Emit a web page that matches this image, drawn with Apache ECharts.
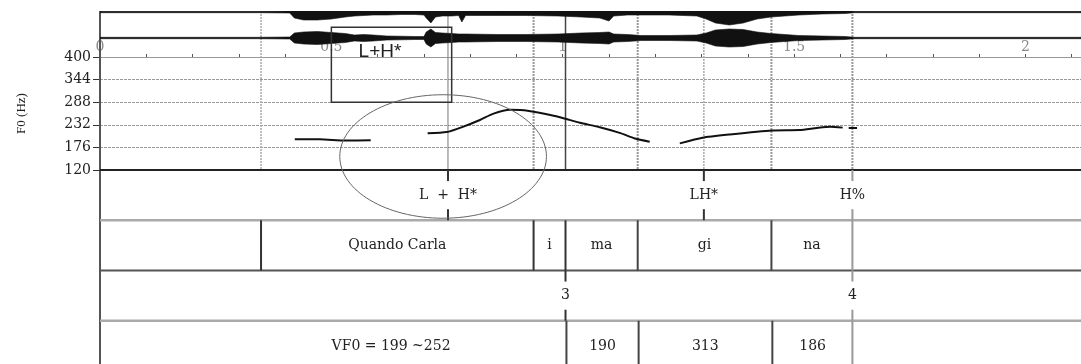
<!DOCTYPE html>
<html>
<head>
<meta charset="utf-8">
<script src="https://cdn.jsdelivr.net/npm/echarts@6/dist/echarts.min.js"></script>
<style>
  html, body { margin: 0; padding: 0; background: #fff; }
  #chart { width: 1081px; height: 364px; }
</style>
</head>
<body>
<div id="chart"></div>
<script>
// ---- time axis (s), shared by waveform, F0 track and annotation tiers ----
const timeMax = 2.12;
const timeTickLabels = ['0', '0.5', '1', '1.5', '2'];

// ---- F0 axis (Hz) ----
const f0Min = 120;
const f0Max = 400;
const f0Step = 56;

// ---- waveform amplitude envelope (relative units), two channels ----
const waveTimes = [0, 0.34, 0.41, 0.42, 0.44, 0.47, 0.50, 0.53, 0.55, 0.57, 0.59, 0.62, 0.65, 0.68, 0.70,
  0.705, 0.715, 0.725, 0.74, 0.76, 0.775, 0.782, 0.79, 0.86, 0.92, 0.99, 1.04, 1.08, 1.10, 1.11,
  1.14, 1.17, 1.23, 1.29, 1.31, 1.33, 1.36, 1.39, 1.42, 1.45, 1.48, 1.51, 1.56, 1.61, 1.63, 2.12];
const waveEnvUpperChannel = [0.7, 0.7, 1.0, 6, 8, 8, 7, 5, 4, 3.5, 3, 3, 2.5, 2.5, 3,
  6, 11, 5, 4, 4, 3.5, 10, 3.5, 3.5, 3.5, 4, 5, 6, 9, 4,
  3, 3, 3, 4, 7, 11, 13, 11, 7, 5, 4, 3, 2, 1.5, 0.7, 0.7];
const waveEnvLowerChannel = [0.7, 0.7, 1.0, 5, 6, 6.5, 5.5, 4.5, 3, 3.5, 3, 2, 1.8, 1.5, 1.5,
  6, 9, 5.5, 5, 4.5, 4, 4, 4, 3.5, 3.5, 4, 5, 5.5, 6, 4,
  3.5, 2.5, 2.5, 3, 5, 8, 9, 8.5, 6, 4.5, 3.5, 2.5, 2, 1.5, 0.7, 0.7];

// ---- F0 contour: time (s) and Hz; null marks an unvoiced gap ----
const f0Times = [0.421, 0.475, 0.529, 0.585, 0.64,
  0.708, 0.749, 0.784, 0.821, 0.849, 0.886, 0.924, 0.983, 1.006, 1.037, 1.080, 1.123, 1.156, 1.188, 1.22,
  1.253, 1.302, 1.361, 1.452, 1.512, 1.549, 1.578, 1.605, 1.611,
  1.618, 1.636];
const f0Values = [196, 196, 193, 194, null,
  211, 214, 227, 244, 259, 269, 267, 254, 247, 237, 226, 212, 198, 190, null,
  186, 200, 208, 218, 219, 224, 227, 225, null,
  224, 224];

// ---- annotation tiers ----
const toneTimes = [0.752, 1.305, 1.626];
const toneLabels = ['L  +  H*', 'LH*', 'H%'];
const syllableBounds = [0.348, 0.937, 1.006, 1.162, 1.451, 1.626];
const syllableLabels = ['Quando Carla', 'i', 'ma', 'gi', 'na'];
const breakTimes = [1.006, 1.626];
const breakLabels = ['3', '4'];
const vf0Bounds = [1.008, 1.164, 1.453, 1.626];
const vf0Labels = ['VF0 = 199 ~252', '190', '313', '186'];
const vf0LabelTimes = [0.629, 1.086, 1.308, 1.54];

// ---- highlighted accent: box (time from/to, Hz from/to) and ellipse (centre t, centre Hz, half-width s, half-height Hz) ----
const accentBox = [0.5, 0.76, 288, 474];
const accentBoxLabel = 'L+H*';
const accentBoxLabelAt = [0.605, 412];
const focusEllipse = [0.7415, 153.5, 0.2233, 153];

// ---- layout and styles ----
const LAYOUT = { left: 100, waveTop: 11, waveHeight: 39, pitchTop: 57, pitchHeight: 113, tierTop: 170, tierHeight: 201 };
const channelOffsets = [26, 0];
const tierRuleColors = ['#222', '#aaa', '#555', '#aaa'];
const tierRuleWidths = [2, 2.5, 2, 2.5];
const toneTickColors = ['#333', '#333', '#999'];
const breakTickColors = ['#333', '#999'];
const syllableBoundColors = ['#333', '#333', '#333', '#444', '#444', '#999'];
const vf0BoundColors = ['#444', '#444', '#444', '#999'];
const syllableGarnish = [
  { color: '#aaa', width: 1.5, dash: [2, 1] },
  { color: '#999', width: 2, dash: [2, 1] },
  { color: '#444', width: 1.5, dash: null },
  { color: '#999', width: 2, dash: [2, 1] },
  { color: '#999', width: 2, dash: [2, 1] },
  { color: '#999', width: 2, dash: [2, 1] }
];
const toneGarnish = [
  { color: '#777', width: 1, dash: null },
  { color: '#aaa', width: 1.5, dash: [2, 1] },
  null
];
const SERIF = 'DejaVu Serif';

// ---- build tier marks ----
const tierItems = [];
tierRuleColors.forEach((c, i) => tierItems.push({ kind: 'rule', row: i, t: 0, color: c, width: tierRuleWidths[i] }));
toneTimes.forEach((t, i) => tierItems.push({ kind: 'point', row: 0, t, text: toneLabels[i], color: toneTickColors[i] }));
syllableBounds.forEach((t, i) => tierItems.push({ kind: 'bound', row: 1, t, color: syllableBoundColors[i] }));
syllableLabels.forEach((s, i) => tierItems.push({ kind: 'text', row: 1, t: (syllableBounds[i] + syllableBounds[i + 1]) / 2, text: s }));
breakTimes.forEach((t, i) => tierItems.push({ kind: 'point', row: 2, t, text: breakLabels[i], color: breakTickColors[i] }));
vf0Bounds.forEach((t, i) => tierItems.push({ kind: 'bound', row: 3, t, color: vf0BoundColors[i] }));
vf0Labels.forEach((s, i) => tierItems.push({ kind: 'text', row: 3, t: vf0LabelTimes[i], text: s }));

// ---- vertical guide lines through waveform and F0 panel ----
const garnishItems = [{ t: 0, color: '#555', width: 2, dash: null }];
syllableBounds.forEach((t, i) => garnishItems.push(Object.assign({ t }, syllableGarnish[i])));
toneTimes.forEach((t, i) => { if (toneGarnish[i]) garnishItems.push(Object.assign({ t }, toneGarnish[i])); });

function textEl(text, x, y, size, family) {
  return { type: 'text', x, y, style: { text, fill: '#222', fontSize: size, fontFamily: family, align: 'center', verticalAlign: 'middle' } };
}
function lineEl(a, b, color, width, dash) {
  return { type: 'line', shape: { x1: a[0], y1: a[1], x2: b[0], y2: b[1] }, style: { stroke: color, lineWidth: width, lineDash: dash || null } };
}

function renderWave(params, api) {
  const ch = params.dataIndex;
  const env = ch === 0 ? waveEnvUpperChannel : waveEnvLowerChannel;
  const c = channelOffsets[ch];
  const pts = [];
  for (let i = 0; i < waveTimes.length; i++) pts.push(api.coord([waveTimes[i], c + env[i]]));
  for (let i = waveTimes.length - 1; i >= 0; i--) pts.push(api.coord([waveTimes[i], c - env[i]]));
  return { type: 'polygon', shape: { points: pts }, style: { fill: '#111', stroke: '#111', lineWidth: 0.6 } };
}

function renderGarnish(params, api) {
  const g = garnishItems[params.dataIndex];
  const bottom = api.coord([g.t, f0Min]);
  return lineEl([bottom[0], LAYOUT.waveTop], bottom, g.color, g.width, g.dash);
}

function renderTier(params, api) {
  const it = tierItems[params.dataIndex];
  if (it.kind === 'rule') {
    return lineEl(api.coord([0, it.row]), api.coord([timeMax, it.row]), it.color, it.width);
  }
  if (it.kind === 'bound') {
    return lineEl(api.coord([it.t, it.row]), api.coord([it.t, it.row + 1]), it.color, 2);
  }
  const mid = api.coord([it.t, it.row + 0.5]);
  if (it.kind === 'text') {
    return textEl(it.text, mid[0], mid[1], 14, SERIF);
  }
  // point tier: ticks at top and bottom of the row, label in the middle
  return {
    type: 'group',
    children: [
      lineEl(api.coord([it.t, it.row]), api.coord([it.t, it.row + 0.22]), it.color, 2),
      lineEl(api.coord([it.t, it.row + 0.78]), api.coord([it.t, it.row + 1]), it.color, 2),
      textEl(it.text, mid[0], mid[1], 14, SERIF)
    ]
  };
}

function renderAccent(params, api) {
  if (params.dataIndex === 0) {
    const a = api.coord([accentBox[0], accentBox[3]]);
    const b = api.coord([accentBox[1], accentBox[2]]);
    const lp = api.coord(accentBoxLabelAt);
    return {
      type: 'group',
      children: [
        { type: 'rect', shape: { x: a[0], y: a[1], width: b[0] - a[0], height: b[1] - a[1] }, style: { fill: null, stroke: '#333', lineWidth: 1.5 } },
        textEl(accentBoxLabel, lp[0], lp[1], 19, 'Liberation Sans')
      ]
    };
  }
  const c = api.coord([focusEllipse[0], focusEllipse[1]]);
  const e = api.coord([focusEllipse[0] + focusEllipse[2], focusEllipse[1] + focusEllipse[3]]);
  return { type: 'ellipse', shape: { cx: c[0], cy: c[1], rx: e[0] - c[0], ry: c[1] - e[1] }, style: { fill: null, stroke: '#666', lineWidth: 1 } };
}

const hiddenTime = (gridIndex) => ({ type: 'value', gridIndex, min: 0, max: timeMax, show: false });
const gridBox = (top, height) => ({ left: LAYOUT.left, right: 0, top, height, containLabel: false, outerBoundsMode: 'none' });

const option = {
  animation: false,
  backgroundColor: '#fff',
  grid: [
    gridBox(LAYOUT.waveTop, LAYOUT.waveHeight),
    gridBox(LAYOUT.pitchTop, LAYOUT.pitchHeight),
    gridBox(LAYOUT.tierTop, LAYOUT.tierHeight)
  ],
  xAxis: [
    hiddenTime(0),
    {
      type: 'value', gridIndex: 1, position: 'top', min: 0, max: timeMax, interval: 0.5,
      axisLine: { show: true, lineStyle: { color: '#999', width: 1 } },
      axisTick: { show: true, length: 3, lineStyle: { color: '#555' } },
      minorTick: { show: true, splitNumber: 5, length: 3, lineStyle: { color: '#555' } },
      axisLabel: {
        show: true, margin: 3, color: '#888', fontFamily: SERIF, fontSize: 14, showMaxLabel: false,
        formatter: (v) => { const k = Math.round(v / 0.5); return Math.abs(v - k * 0.5) < 1e-6 && timeTickLabels[k] ? timeTickLabels[k] : ''; }
      },
      splitLine: { show: false }
    },
    hiddenTime(2)
  ],
  yAxis: [
    { type: 'value', gridIndex: 0, min: -12, max: 27, show: false },
    {
      type: 'value', gridIndex: 1, min: f0Min, max: f0Max, interval: f0Step,
      name: 'F0 (Hz)', nameLocation: 'middle', nameRotate: 90, nameGap: 72,
      nameTextStyle: { color: '#222', fontFamily: 'Liberation Serif', fontSize: 13 },
      axisLine: { show: true, lineStyle: { color: '#555', width: 2 } },
      axisTick: { show: true, length: 7, lineStyle: { color: '#333' } },
      axisLabel: { color: '#222', fontFamily: SERIF, fontSize: 14, margin: 9 },
      splitLine: { show: true, lineStyle: { color: '#999', width: 1, type: [3, 1] } }
    },
    {
      type: 'value', gridIndex: 2, min: 0, max: 4, inverse: true,
      axisLine: { show: true, lineStyle: { color: '#555', width: 2 } },
      axisTick: { show: false }, axisLabel: { show: false }, splitLine: { show: false }
    }
  ],
  series: [
    {
      type: 'custom', name: 'waveform', xAxisIndex: 0, yAxisIndex: 0, clip: true, z: 3,
      renderItem: renderWave, data: channelOffsets.map((c, i) => [i, c])
    },
    {
      type: 'custom', name: 'guides', xAxisIndex: 1, yAxisIndex: 1, clip: false, z: 2,
      renderItem: renderGarnish, data: garnishItems.map((g) => [g.t, f0Min])
    },
    {
      type: 'line', name: 'F0', xAxisIndex: 1, yAxisIndex: 1, z: 5,
      showSymbol: false, connectNulls: false, smooth: 0.2,
      lineStyle: { color: '#111', width: 2 },
      data: f0Times.map((t, i) => [t, f0Values[i] === null ? '-' : f0Values[i]])
    },
    {
      type: 'custom', name: 'tiers', xAxisIndex: 2, yAxisIndex: 2, clip: false, z: 4,
      renderItem: renderTier, data: tierItems.map((it) => [it.t, it.row])
    },
    {
      type: 'custom', name: 'accent', xAxisIndex: 1, yAxisIndex: 1, clip: false, z: 6,
      renderItem: renderAccent, data: [[accentBox[0], accentBox[2]], [focusEllipse[0], focusEllipse[1]]]
    }
  ]
};

const chart = echarts.init(document.getElementById('chart'));
chart.setOption(option);
</script>
</body>
</html>
